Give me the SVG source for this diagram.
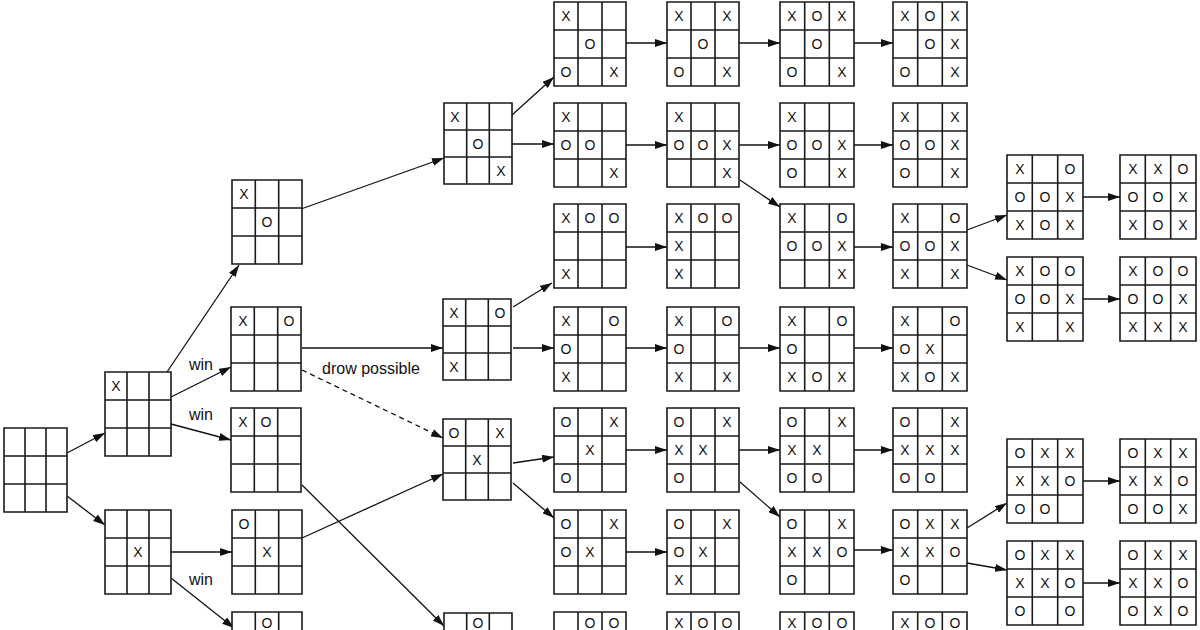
<svg xmlns="http://www.w3.org/2000/svg" xmlns:xlink="http://www.w3.org/1999/xlink" width="1200" height="630" viewBox="0 0 1200 630">
<style>
.g{fill:#fff;stroke:#1a1a1a;stroke-width:1.6}
.b{font-family:"Liberation Sans",Arial,sans-serif;font-size:14px;text-anchor:middle;fill:#111}
.c{stroke:#111;stroke-width:1.3;fill:none;marker-end:url(#ah)}
.d{stroke-dasharray:5 4}
.l{font-family:"Liberation Sans",Arial,sans-serif;font-size:16px;fill:#111}
</style>
<defs>
<marker id="ah" viewBox="0 0 12 8" refX="12" refY="4" markerWidth="12" markerHeight="8" markerUnits="userSpaceOnUse" orient="auto"><path d="M0,0 L12,4 L0,8 Z" fill="#111"/></marker>
<path id="g63" class="g" d="M0,0H63V84H0Z M21,0V84 M42,0V84 M0,28H63 M0,56H63"/>
<path id="g66" class="g" d="M0,0H66V84H0Z M22,0V84 M44,0V84 M0,28H66 M0,56H66"/>
<path id="g70" class="g" d="M0,0H70V84H0Z M23.3,0V84 M46.7,0V84 M0,28H70 M0,56H70"/>
<path id="g68" class="g" d="M0,0H68V81H0Z M22.7,0V81 M45.3,0V81 M0,27H68 M0,54H68"/>
<path id="g72" class="g" d="M0,0H72V84H0Z M24,0V84 M48,0V84 M0,28H72 M0,56H72"/>
<path id="g74" class="g" d="M0,0H74V84H0Z M24.7,0V84 M49.3,0V84 M0,28H74 M0,56H74"/>
<path id="g76" class="g" d="M0,0H76V84H0Z M25.3,0V84 M50.7,0V84 M0,28H76 M0,56H76"/>
</defs>
<rect width="1200" height="630" fill="#fff"/>

<g id="connectors">
<line class="c" x1="67" y1="453" x2="105" y2="433"/>
<line class="c" x1="67" y1="496" x2="105" y2="525"/>
<line class="c" x1="167" y1="372" x2="239" y2="265"/>
<line class="c" x1="171" y1="397" x2="231" y2="367"/>
<line class="c" x1="171" y1="424" x2="231" y2="440"/>
<line class="c" x1="171" y1="552" x2="232" y2="552"/>
<line class="c" x1="171" y1="578" x2="234" y2="628"/>
<line class="c" x1="301" y1="209" x2="444" y2="158"/>
<line class="c" x1="302" y1="348" x2="443" y2="348"/>
<line class="c d" x1="302" y1="370" x2="443" y2="438"/>
<line class="c" x1="302" y1="485" x2="444" y2="626"/>
<line class="c" x1="302" y1="538" x2="443" y2="474"/>
<line class="c" x1="512" y1="115" x2="554" y2="77"/>
<line class="c" x1="512" y1="144" x2="554" y2="144"/>
<line class="c" x1="513" y1="307" x2="552" y2="283"/>
<line class="c" x1="513" y1="348" x2="554" y2="348"/>
<line class="c" x1="513" y1="463" x2="554" y2="457"/>
<line class="c" x1="513" y1="483" x2="554" y2="518"/>
<line class="c" x1="626" y1="43" x2="667" y2="43"/>
<line class="c" x1="626" y1="145" x2="667" y2="145"/>
<line class="c" x1="626" y1="247" x2="667" y2="247"/>
<line class="c" x1="626" y1="348" x2="667" y2="348"/>
<line class="c" x1="626" y1="450" x2="667" y2="450"/>
<line class="c" x1="626" y1="552" x2="667" y2="552"/>
<line class="c" x1="739" y1="43" x2="780" y2="43"/>
<line class="c" x1="739" y1="145" x2="780" y2="145"/>
<line class="c" x1="740" y1="180" x2="780" y2="207"/>
<line class="c" x1="739" y1="348" x2="780" y2="348"/>
<line class="c" x1="739" y1="450" x2="780" y2="450"/>
<line class="c" x1="740" y1="482" x2="780" y2="517"/>
<line class="c" x1="854" y1="43" x2="893" y2="43"/>
<line class="c" x1="854" y1="145" x2="893" y2="145"/>
<line class="c" x1="854" y1="247" x2="893" y2="247"/>
<line class="c" x1="854" y1="348" x2="893" y2="348"/>
<line class="c" x1="854" y1="450" x2="893" y2="450"/>
<line class="c" x1="854" y1="550" x2="893" y2="550"/>
<line class="c" x1="967" y1="230" x2="1007" y2="215"/>
<line class="c" x1="967" y1="265" x2="1007" y2="280"/>
<line class="c" x1="967" y1="528" x2="1007" y2="503"/>
<line class="c" x1="967" y1="563" x2="1007" y2="570"/>
<line class="c" x1="1083" y1="197" x2="1120" y2="197"/>
<line class="c" x1="1083" y1="299" x2="1120" y2="299"/>
<line class="c" x1="1083" y1="481" x2="1120" y2="481"/>
<line class="c" x1="1083" y1="583" x2="1120" y2="583"/>
</g>

<g id="labels" class="l">
<text x="189" y="370">win</text>
<text x="189" y="420">win</text>
<text x="189" y="585">win</text>
<text x="322" y="374">drow possible</text>
</g>

<g id="root" class="b" transform="translate(4,428)"><use xlink:href="#g63"/></g>
<g id="l1a" class="b" transform="translate(105,372)"><use xlink:href="#g66"/><text x="11" y="19">X</text></g>
<g id="l1b" class="b" transform="translate(105,510)"><use xlink:href="#g66"/><text x="33" y="47">X</text></g>

<g id="l2a" class="b" transform="translate(232,180)"><use xlink:href="#g70"/><text x="12" y="19">X</text><text x="35" y="47">O</text></g>
<g id="l2b" class="b" transform="translate(231,307)"><use xlink:href="#g70"/><text x="12" y="19">X</text><text x="58" y="19">O</text></g>
<g id="l2c" class="b" transform="translate(231,408)"><use xlink:href="#g70"/><text x="12" y="19">X</text><text x="35" y="19">O</text></g>
<g id="l2d" class="b" transform="translate(232,510)"><use xlink:href="#g70"/><text x="12" y="19">O</text><text x="35" y="47">X</text></g>
<g id="l2e" class="b" transform="translate(232,612)"><use xlink:href="#g70"/><text x="35" y="16">O</text></g>

<g id="c3a" class="b" transform="translate(444,103)"><use xlink:href="#g68"/><text x="11" y="18.5">X</text><text x="34" y="45.5">O</text><text x="57" y="72.5">X</text></g>
<g id="c3b" class="b" transform="translate(443,299)"><use xlink:href="#g68"/><text x="11" y="18.5">X</text><text x="57" y="18.5">O</text><text x="11" y="72.5">X</text></g>
<g id="c3c" class="b" transform="translate(443,419)"><use xlink:href="#g68"/><text x="11" y="18.5">O</text><text x="57" y="18.5">X</text><text x="34" y="45.5">X</text></g>
<g id="c3d" class="b" transform="translate(444,613)"><use xlink:href="#g68"/><text x="34" y="15">O</text></g>

<g id="c4a" class="b" transform="translate(554,2)"><use xlink:href="#g72"/><text x="12" y="19">X</text><text x="36" y="47">O</text><text x="12" y="75">O</text><text x="60" y="75">X</text></g>
<g id="c4b" class="b" transform="translate(554,103)"><use xlink:href="#g72"/><text x="12" y="19">X</text><text x="12" y="47">O</text><text x="36" y="47">O</text><text x="60" y="75">X</text></g>
<g id="c4c" class="b" transform="translate(554,204)"><use xlink:href="#g72"/><text x="12" y="19">X</text><text x="36" y="19">O</text><text x="60" y="19">O</text><text x="12" y="75">X</text></g>
<g id="c4d" class="b" transform="translate(554,307)"><use xlink:href="#g72"/><text x="12" y="19">X</text><text x="60" y="19">O</text><text x="12" y="47">O</text><text x="12" y="75">X</text></g>
<g id="c4e" class="b" transform="translate(554,408)"><use xlink:href="#g72"/><text x="12" y="19">O</text><text x="60" y="19">X</text><text x="36" y="47">X</text><text x="12" y="75">O</text></g>
<g id="c4f" class="b" transform="translate(554,510)"><use xlink:href="#g72"/><text x="12" y="19">O</text><text x="60" y="19">X</text><text x="12" y="47">O</text><text x="36" y="47">X</text></g>
<g id="c4g" class="b" transform="translate(554,612)"><use xlink:href="#g72"/><text x="36" y="16">O</text><text x="60" y="16">O</text></g>

<g id="c5a" class="b" transform="translate(667,2)"><use xlink:href="#g72"/><text x="12" y="19">X</text><text x="60" y="19">X</text><text x="36" y="47">O</text><text x="12" y="75">O</text><text x="60" y="75">X</text></g>
<g id="c5b" class="b" transform="translate(667,103)"><use xlink:href="#g72"/><text x="12" y="19">X</text><text x="12" y="47">O</text><text x="36" y="47">O</text><text x="60" y="47">X</text><text x="60" y="75">X</text></g>
<g id="c5c" class="b" transform="translate(667,204)"><use xlink:href="#g72"/><text x="12" y="19">X</text><text x="36" y="19">O</text><text x="60" y="19">O</text><text x="12" y="47">X</text><text x="12" y="75">X</text></g>
<g id="c5d" class="b" transform="translate(667,307)"><use xlink:href="#g72"/><text x="12" y="19">X</text><text x="60" y="19">O</text><text x="12" y="47">O</text><text x="12" y="75">X</text><text x="60" y="75">X</text></g>
<g id="c5e" class="b" transform="translate(667,408)"><use xlink:href="#g72"/><text x="12" y="19">O</text><text x="60" y="19">X</text><text x="12" y="47">X</text><text x="36" y="47">X</text><text x="12" y="75">O</text></g>
<g id="c5f" class="b" transform="translate(667,510)"><use xlink:href="#g72"/><text x="12" y="19">O</text><text x="60" y="19">X</text><text x="12" y="47">O</text><text x="36" y="47">X</text><text x="12" y="75">X</text></g>
<g id="c5g" class="b" transform="translate(667,612)"><use xlink:href="#g72"/><text x="12" y="16">X</text><text x="36" y="16">O</text><text x="60" y="16">O</text></g>

<g id="c6a" class="b" transform="translate(780,2)"><use xlink:href="#g74"/><text x="12" y="19">X</text><text x="37" y="19">O</text><text x="62" y="19">X</text><text x="37" y="47">O</text><text x="12" y="75">O</text><text x="62" y="75">X</text></g>
<g id="c6b" class="b" transform="translate(780,103)"><use xlink:href="#g74"/><text x="12" y="19">X</text><text x="12" y="47">O</text><text x="37" y="47">O</text><text x="62" y="47">X</text><text x="12" y="75">O</text><text x="62" y="75">X</text></g>
<g id="c6c" class="b" transform="translate(780,204)"><use xlink:href="#g74"/><text x="12" y="19">X</text><text x="62" y="19">O</text><text x="12" y="47">O</text><text x="37" y="47">O</text><text x="62" y="47">X</text><text x="62" y="75">X</text></g>
<g id="c6d" class="b" transform="translate(780,307)"><use xlink:href="#g74"/><text x="12" y="19">X</text><text x="62" y="19">O</text><text x="12" y="47">O</text><text x="12" y="75">X</text><text x="37" y="75">O</text><text x="62" y="75">X</text></g>
<g id="c6e" class="b" transform="translate(780,408)"><use xlink:href="#g74"/><text x="12" y="19">O</text><text x="62" y="19">X</text><text x="12" y="47">X</text><text x="37" y="47">X</text><text x="12" y="75">O</text><text x="37" y="75">O</text></g>
<g id="c6f" class="b" transform="translate(780,510)"><use xlink:href="#g74"/><text x="12" y="19">O</text><text x="62" y="19">X</text><text x="12" y="47">X</text><text x="37" y="47">X</text><text x="62" y="47">O</text><text x="12" y="75">O</text></g>
<g id="c6g" class="b" transform="translate(780,612)"><use xlink:href="#g74"/><text x="12" y="16">X</text><text x="37" y="16">O</text><text x="62" y="16">O</text></g>

<g id="c7a" class="b" transform="translate(893,2)"><use xlink:href="#g74"/><text x="12" y="19">X</text><text x="37" y="19">O</text><text x="62" y="19">X</text><text x="37" y="47">O</text><text x="62" y="47">X</text><text x="12" y="75">O</text><text x="62" y="75">X</text></g>
<g id="c7b" class="b" transform="translate(893,103)"><use xlink:href="#g74"/><text x="12" y="19">X</text><text x="62" y="19">X</text><text x="12" y="47">O</text><text x="37" y="47">O</text><text x="62" y="47">X</text><text x="12" y="75">O</text><text x="62" y="75">X</text></g>
<g id="c7c" class="b" transform="translate(893,204)"><use xlink:href="#g74"/><text x="12" y="19">X</text><text x="62" y="19">O</text><text x="12" y="47">O</text><text x="37" y="47">O</text><text x="62" y="47">X</text><text x="12" y="75">X</text><text x="62" y="75">X</text></g>
<g id="c7d" class="b" transform="translate(893,307)"><use xlink:href="#g74"/><text x="12" y="19">X</text><text x="62" y="19">O</text><text x="12" y="47">O</text><text x="37" y="47">X</text><text x="12" y="75">X</text><text x="37" y="75">O</text><text x="62" y="75">X</text></g>
<g id="c7e" class="b" transform="translate(893,408)"><use xlink:href="#g74"/><text x="12" y="19">O</text><text x="62" y="19">X</text><text x="12" y="47">X</text><text x="37" y="47">X</text><text x="62" y="47">X</text><text x="12" y="75">O</text><text x="37" y="75">O</text></g>
<g id="c7f" class="b" transform="translate(893,510)"><use xlink:href="#g74"/><text x="12" y="19">O</text><text x="37" y="19">X</text><text x="62" y="19">X</text><text x="12" y="47">X</text><text x="37" y="47">X</text><text x="62" y="47">O</text><text x="12" y="75">O</text></g>
<g id="c7g" class="b" transform="translate(893,612)"><use xlink:href="#g74"/><text x="12" y="16">X</text><text x="37" y="16">O</text><text x="62" y="16">O</text></g>

<g id="c8a" class="b" transform="translate(1007,155)"><use xlink:href="#g76"/><text x="13" y="19">X</text><text x="63" y="19">O</text><text x="13" y="47">O</text><text x="38" y="47">O</text><text x="63" y="47">X</text><text x="13" y="75">X</text><text x="38" y="75">O</text><text x="63" y="75">X</text></g>
<g id="c8b" class="b" transform="translate(1007,257)"><use xlink:href="#g76"/><text x="13" y="19">X</text><text x="38" y="19">O</text><text x="63" y="19">O</text><text x="13" y="47">O</text><text x="38" y="47">O</text><text x="63" y="47">X</text><text x="13" y="75">X</text><text x="63" y="75">X</text></g>
<g id="c8c" class="b" transform="translate(1007,439)"><use xlink:href="#g76"/><text x="13" y="19">O</text><text x="38" y="19">X</text><text x="63" y="19">X</text><text x="13" y="47">X</text><text x="38" y="47">X</text><text x="63" y="47">O</text><text x="13" y="75">O</text><text x="38" y="75">O</text></g>
<g id="c8d" class="b" transform="translate(1007,541)"><use xlink:href="#g76"/><text x="13" y="19">O</text><text x="38" y="19">X</text><text x="63" y="19">X</text><text x="13" y="47">X</text><text x="38" y="47">X</text><text x="63" y="47">O</text><text x="13" y="75">O</text><text x="63" y="75">O</text></g>

<g id="c9a" class="b" transform="translate(1120,155)"><use xlink:href="#g76"/><text x="13" y="19">X</text><text x="38" y="19">X</text><text x="63" y="19">O</text><text x="13" y="47">O</text><text x="38" y="47">O</text><text x="63" y="47">X</text><text x="13" y="75">X</text><text x="38" y="75">O</text><text x="63" y="75">X</text></g>
<g id="c9b" class="b" transform="translate(1120,257)"><use xlink:href="#g76"/><text x="13" y="19">X</text><text x="38" y="19">O</text><text x="63" y="19">O</text><text x="13" y="47">O</text><text x="38" y="47">O</text><text x="63" y="47">X</text><text x="13" y="75">X</text><text x="38" y="75">X</text><text x="63" y="75">X</text></g>
<g id="c9c" class="b" transform="translate(1120,439)"><use xlink:href="#g76"/><text x="13" y="19">O</text><text x="38" y="19">X</text><text x="63" y="19">X</text><text x="13" y="47">X</text><text x="38" y="47">X</text><text x="63" y="47">O</text><text x="13" y="75">O</text><text x="38" y="75">O</text><text x="63" y="75">X</text></g>
<g id="c9d" class="b" transform="translate(1120,541)"><use xlink:href="#g76"/><text x="13" y="19">O</text><text x="38" y="19">X</text><text x="63" y="19">X</text><text x="13" y="47">X</text><text x="38" y="47">X</text><text x="63" y="47">O</text><text x="13" y="75">O</text><text x="38" y="75">X</text><text x="63" y="75">O</text></g>
</svg>
